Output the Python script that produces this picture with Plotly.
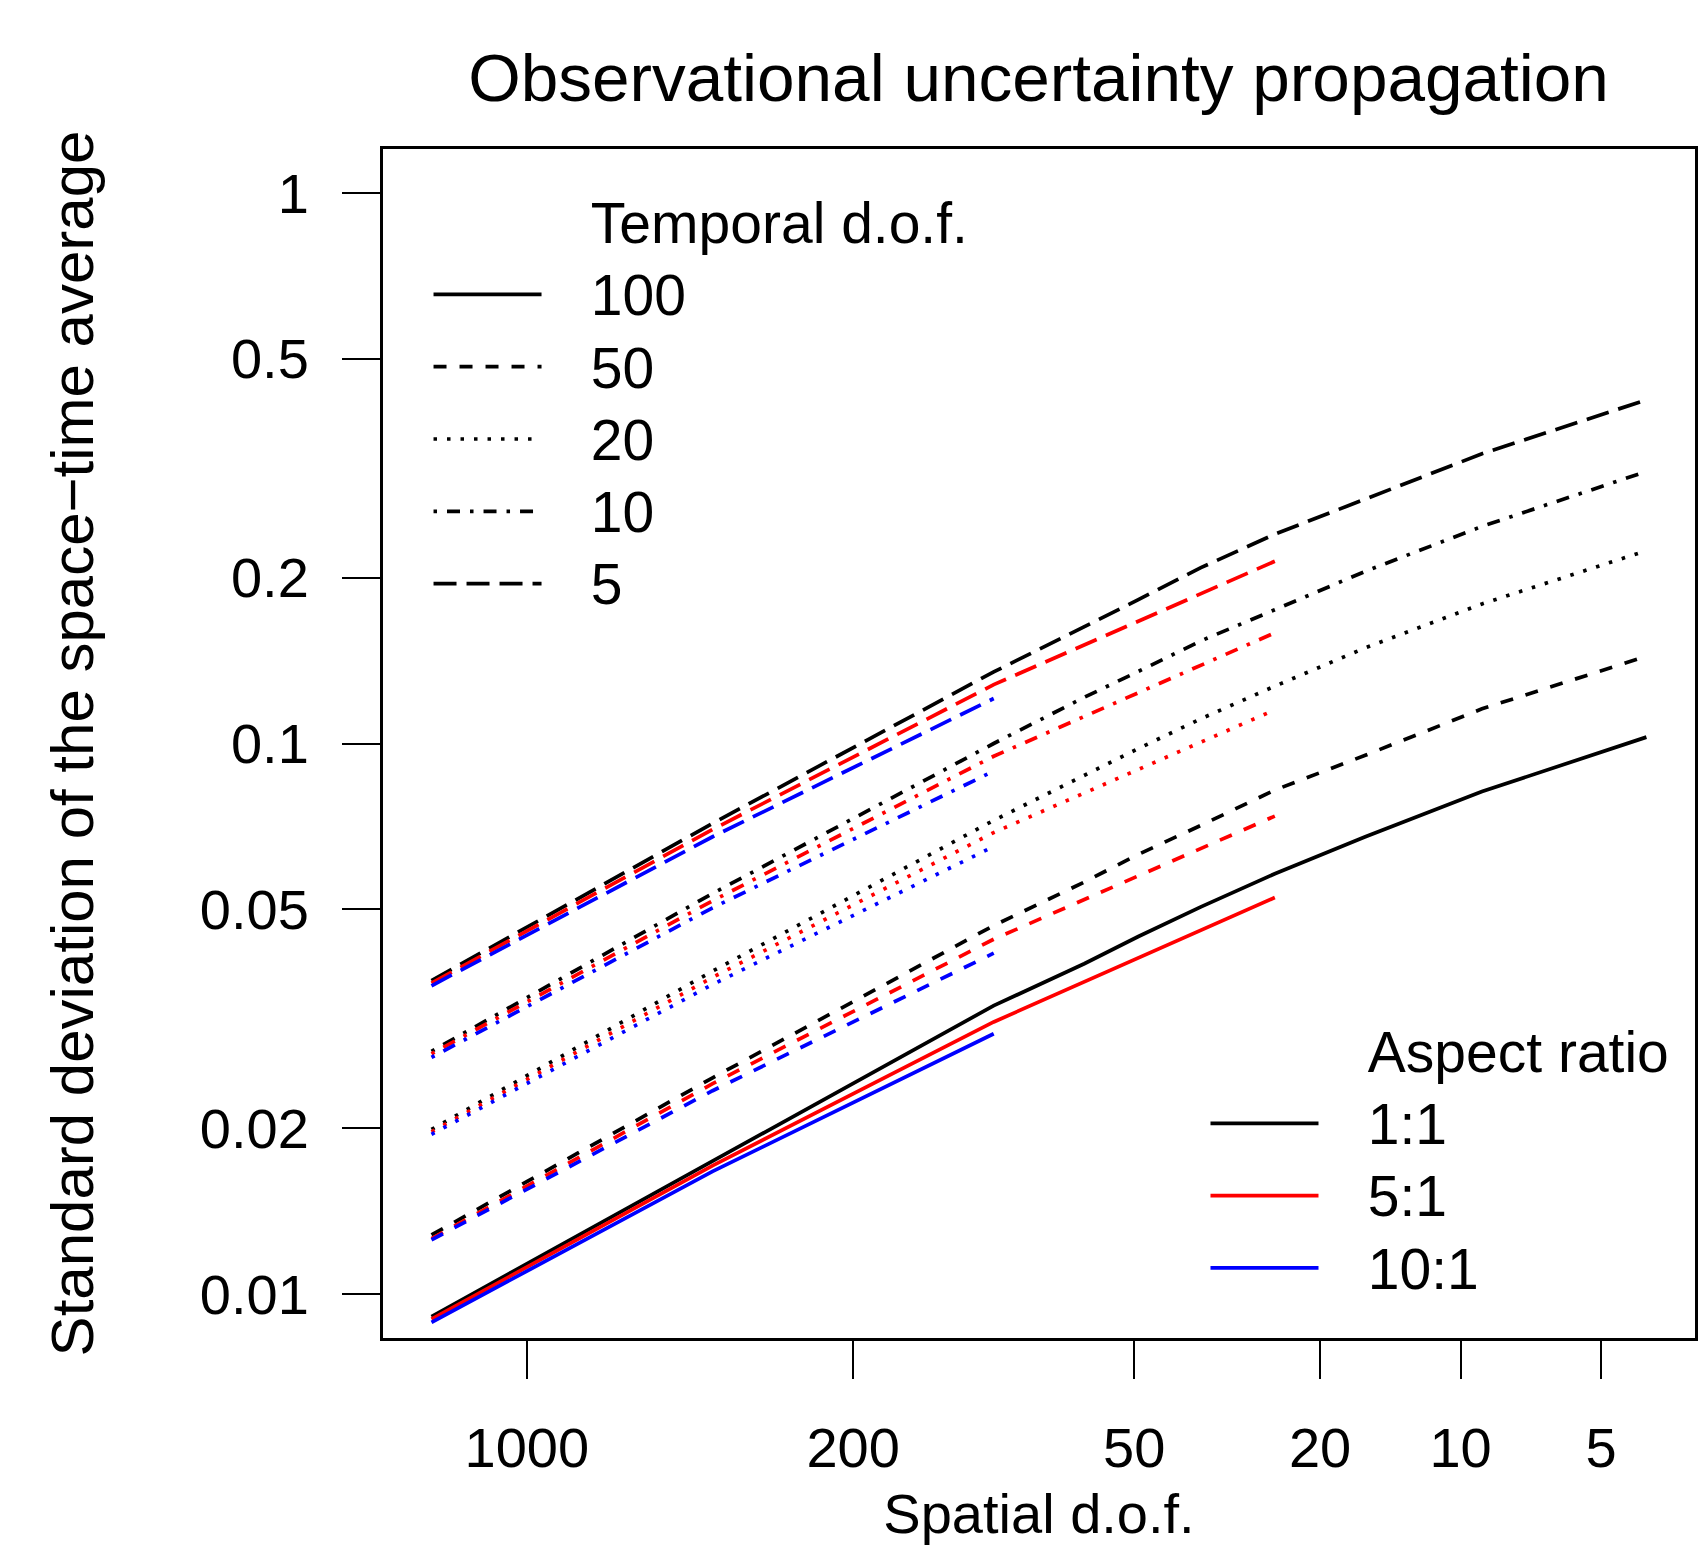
import plotly.graph_objects as go

# spatial d.o.f. at which each aspect ratio was evaluated
dof_1to1 = [1600, 400, 100, 64, 49, 36, 25, 16, 9, 4]
dof_5to1 = [1600, 400, 100, 25]
dof_10to1 = [1600, 400, 100]

temporal_dof = ["100", "50", "20", "10", "5"]
aspect_ratios = ["1:1", "5:1", "10:1"]

# standard deviation of the space-time average, one list per temporal d.o.f.
sd_1to1_t100 = [0.0091, 0.01746, 0.0334, 0.0398, 0.0446, 0.0505, 0.0580, 0.0677, 0.0818, 0.1027]
sd_1to1_t50 = [0.0128, 0.0247, 0.0467, 0.0560, 0.0629, 0.0710, 0.0823, 0.0952, 0.1156, 0.1440]
sd_1to1_t20 = [0.0199, 0.0386, 0.0725, 0.0876, 0.0979, 0.1109, 0.1271, 0.1492, 0.1793, 0.2240]
sd_1to1_t10 = [0.0276, 0.0534, 0.1000, 0.1213, 0.1352, 0.1536, 0.1750, 0.2055, 0.2480, 0.3120]
sd_1to1_t5 = [0.0371, 0.0716, 0.1349, 0.1629, 0.1825, 0.2087, 0.2400, 0.2780, 0.3360, 0.4210]

sd_5to1_t100 = [0.0090, 0.0171, 0.0312, 0.0525]
sd_5to1_t50 = [0.0126, 0.0241, 0.0441, 0.0738]
sd_5to1_t20 = [0.0197, 0.0376, 0.0689, 0.1151]
sd_5to1_t10 = [0.0273, 0.0518, 0.0948, 0.1589]
sd_5to1_t5 = [0.0367, 0.0698, 0.1279, 0.2143]

sd_10to1_t100 = [0.00888, 0.0167, 0.0297]
sd_10to1_t50 = [0.01254, 0.0234, 0.0416]
sd_10to1_t20 = [0.0195, 0.0365, 0.0650]
sd_10to1_t10 = [0.0269, 0.0503, 0.0891]
sd_10to1_t5 = [0.0363, 0.0677, 0.1207]

x_ticks = [1000, 200, 50, 20, 10, 5]
y_ticks = [0.01, 0.02, 0.05, 0.1, 0.2, 0.5, 1]
y_ticktext = ["0.01", "0.02", "0.05", "0.1", "0.2", "0.5", "1"]

series = {
    "1:1": (dof_1to1, [sd_1to1_t100, sd_1to1_t50, sd_1to1_t20, sd_1to1_t10, sd_1to1_t5]),
    "5:1": (dof_5to1, [sd_5to1_t100, sd_5to1_t50, sd_5to1_t20, sd_5to1_t10, sd_5to1_t5]),
    "10:1": (dof_10to1, [sd_10to1_t100, sd_10to1_t50, sd_10to1_t20, sd_10to1_t10, sd_10to1_t5]),
}

colors = {"1:1": "#000000", "5:1": "#FF0000", "10:1": "#0000FF"}
# R line types: solid, dashed, dotted, dotdash, longdash
dashes = {
    "100": "solid",
    "50": "13px,13px",
    "20": "3.5px,10px",
    "10": "3.5px,10px,13px,10px",
    "5": "23px,10px",
}
LW = 3.7
FONT = "Liberation Sans, Arial, Helvetica, sans-serif"


def legend_label(text):
    # bigger text than the legend font (which sets row spacing) and a gap after the line sample
    return f'<span style="font-size:57px">\u2002\u00a0{text}</span>'


fig = go.Figure()

for ar in aspect_ratios:
    dof, sds = series[ar]
    for t, sd in zip(temporal_dof, sds):
        fig.add_trace(
            go.Scatter(
                x=dof,
                y=sd,
                mode="lines",
                line=dict(color=colors[ar], width=LW, dash=dashes[t]),
                name=f"{ar}, temporal d.o.f. {t}",
                showlegend=False,
            )
        )

# legend entries (header rows use an invisible line)
fig.add_trace(go.Scatter(x=[None], y=[None], mode="lines", name=legend_label("Temporal d.o.f."),
                         line=dict(color="rgba(0,0,0,0)", width=LW), legend="legend"))
for t in temporal_dof:
    fig.add_trace(go.Scatter(x=[None], y=[None], mode="lines", name=legend_label(t),
                             line=dict(color="#000000", width=LW, dash=dashes[t]), legend="legend"))

fig.add_trace(go.Scatter(x=[None], y=[None], mode="lines", name=legend_label("Aspect ratio"),
                         line=dict(color="rgba(0,0,0,0)", width=LW), legend="legend2"))
for ar in aspect_ratios:
    fig.add_trace(go.Scatter(x=[None], y=[None], mode="lines", name=legend_label(ar),
                             line=dict(color=colors[ar], width=LW), legend="legend2"))

axis_common = dict(
    showgrid=False,
    zeroline=False,
    showline=True,
    linecolor="#000000",
    linewidth=3,
    mirror=True,
    ticks="outside",
    ticklen=38,
    tickwidth=2,
    tickcolor="#000000",
    tickfont=dict(family=FONT, size=56, color="#000000"),
    automargin=False,
)

legend_common = dict(
    bgcolor="rgba(0,0,0,0)",
    borderwidth=0,
    font=dict(size=53.3, family=FONT, color="#000000"),
    itemwidth=108,
    traceorder="normal",
    xanchor="left",
    yanchor="top",
)

# the page body keeps an 8px margin, so the figure is 8px smaller than the window
fig.update_layout(
    width=1698,
    height=1537,
    margin=dict(l=375, r=11, t=141, b=207),
    plot_bgcolor="white",
    paper_bgcolor="white",
    font=dict(family=FONT, color="#000000"),
    title=dict(
        text="Observational uncertainty propagation",
        font=dict(size=67.5, family=FONT, color="#000000"),
        x=0.6069,
        xref="container",
        xanchor="center",
        y=0.9548,
        yanchor="middle",
    ),
    xaxis=dict(
        type="log",
        range=[3.308, 0.498],
        tickvals=x_ticks,
        ticktext=[str(v) for v in x_ticks],
        ticklabelstandoff=21,
        title=dict(text="Spatial d.o.f.", font=dict(size=56, family=FONT), standoff=17),
        **axis_common,
    ),
    yaxis=dict(
        type="log",
        range=[-2.08, 0.08],
        tickvals=y_ticks,
        ticktext=y_ticktext,
        ticklabelstandoff=22,
        title=dict(text="Standard deviation of the space\u2212time average",
                   font=dict(size=60, family=FONT), standoff=87),
        **axis_common,
    ),
    legend=dict(x=0.0347, y=0.9731, **legend_common),
    legend2=dict(x=0.6269, y=0.2759, **legend_common),
)

fig.write_html("out.html")
